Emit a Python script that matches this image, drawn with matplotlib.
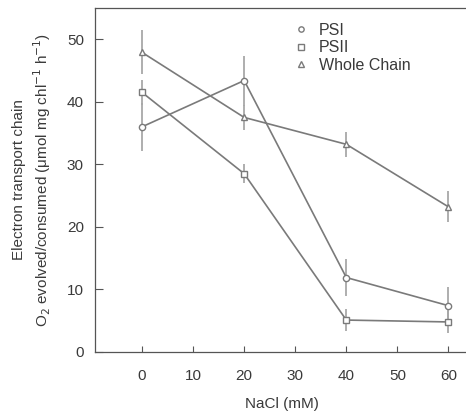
import matplotlib
matplotlib.use("Agg")
import matplotlib.pyplot as plt

plt.rcParams['font.family'] = ['Liberation Sans', 'DejaVu Sans']

nacl = [0, 20, 40, 60]
psi = [36.0, 43.4, 11.9, 7.4]
psi_err = [3.8, 4.0, 3.0, 3.0]
psii = [41.5, 28.5, 5.1, 4.8]
psii_err = [2.0, 1.5, 1.8, 1.8]
whole = [47.9, 37.5, 33.2, 23.2]
whole_err = [3.5, 2.0, 2.0, 2.5]

line_c = '#7a7a7a'
err_c = '#a8a8a8'
txt_c = '#3a3a3a'

fig = plt.figure(figsize=(4.66, 4.2), dpi=100)
ax = fig.add_axes([0.204, 0.162, 0.80, 0.819])

series = [(psi, psi_err, 'o', 'PSI'),
          (psii, psii_err, 's', 'PSII'),
          (whole, whole_err, '^', 'Whole Chain')]
for vals, errs, m, lab in series:
    ax.errorbar(nacl, vals, yerr=errs, fmt='none', ecolor=err_c, elinewidth=1.3, capsize=0, zorder=1)
    ax.plot(nacl, vals, color=line_c, lw=1.2, zorder=2)
    ax.plot(nacl, vals, ls='none', marker=m, ms=4.5, mfc='white', mec=line_c, mew=1.0, zorder=3, label=lab)

ax.set_xlim(-9.2, 63.8)
ax.set_ylim(0, 55)
ax.set_xticks([0, 10, 20, 30, 40, 50, 60])
ax.set_yticks([0, 10, 20, 30, 40, 50])
ax.tick_params(axis='x', direction='in', length=4, colors='#555555', labelcolor=txt_c, labelsize=11, pad=12)
ax.tick_params(axis='y', direction='in', length=6, colors='#555555', labelcolor=txt_c, labelsize=11, pad=8)
for s in ax.spines.values():
    s.set_color('#555555')
    s.set_linewidth(0.9)
ax.spines['right'].set_visible(False)

ax.set_xlabel('NaCl (mM)', color=txt_c, fontsize=11, labelpad=10)
ax.set_ylabel('Electron transport chain\nO$_2$ evolved/consumed (\u03bcmol mg chl$^{-1}$ h$^{-1}$)',
              color=txt_c, fontsize=11, labelpad=10, linespacing=1.3)

leg = ax.legend(loc='upper left', frameon=False, fontsize=11.5, handletextpad=0.5,
                handlelength=1.2, labelspacing=0.15, borderaxespad=0.0,
                bbox_to_anchor=(0.51, 0.975), markerscale=0.85)
for t in leg.get_texts():
    t.set_color(txt_c)

fig.savefig('out.png', dpi=100)
